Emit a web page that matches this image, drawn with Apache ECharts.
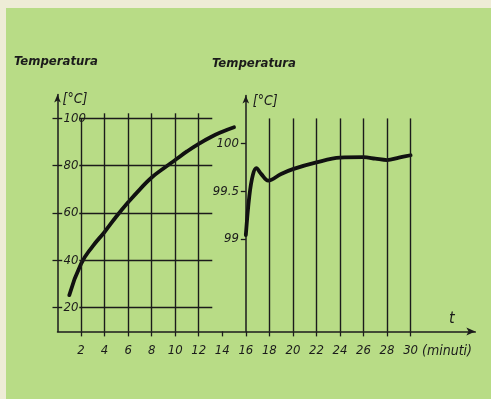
<!DOCTYPE html>
<html>
<head>
<meta charset="utf-8">
<script src="https://cdn.jsdelivr.net/npm/echarts@6/dist/echarts.min.js"></script>
<style>
html,body{margin:0;padding:0;background:#eeecd6;}
#c{width:491px;height:399px;}
</style>
</head>
<body>
<div id="c"></div>
<script>
// ---- data ----
const tLeft = [1, 2, 3, 4, 5, 6, 7, 8, 9, 10, 11, 12, 13, 14, 15];
const tempLeft = [25.3, 38.5, 46, 52, 58.5, 64.5, 70, 75, 78.8, 82.4, 86, 89.2, 92, 94.3, 96.2];
const tRight = [16, 16.3, 16.6, 16.9, 17.3, 17.9, 19, 20, 22, 24, 26, 27, 28, 29, 30];
const tempRight = [99.04, 99.45, 99.67, 99.74, 99.68, 99.61, 99.68, 99.73, 99.8, 99.85, 99.855, 99.84, 99.825, 99.85, 99.875];
const xTickValues = [2, 4, 6, 8, 10, 12, 14, 16, 18, 20, 22, 24, 26, 28, 30];
const leftGridX = [2, 4, 6, 8, 10, 12];
const rightGridX = [18, 20, 22, 24, 26, 28, 30];
const yTicksLeft = [20, 40, 60, 80, 100];
const yTicksRight = [99, 99.5, 100];

const FONT = "'DejaVu Sans Condensed', 'DejaVu Sans', sans-serif";
const INK = '#1b1b1b';
const GREEN = '#b8dc86';

const pxPerT = 11.77;
const x0 = 57.5;

function seg(a, b) { return [{coord: a}, {coord: b}]; }

const leftLines = [];
yTicksLeft.forEach(v => leftLines.push(seg([1.85, v], [13.15, v])));
leftGridX.forEach(t => leftLines.push(seg([t, 10], [t, t === 2 ? 100 : 102.1])));
yTicksLeft.forEach(v => leftLines.push(seg([0, v], [0.4, v])));

const rightLines = [];
yTicksRight.forEach(v => rightLines.push(seg([16, v], [30.15, v])));
rightGridX.forEach(t => rightLines.push(seg([t, 98.035], [t, 100.26])));

const lbl = {fontFamily: FONT, fontStyle: 'italic', fontSize: 13, color: INK};

const chart = echarts.init(document.getElementById('c'), null, {renderer: 'canvas'});
chart.setOption({
  animation: false,
  backgroundColor: 'transparent',
  graphic: [
    {type: 'rect', z: -10, shape: {x: 6, y: 8, width: 485, height: 391}, style: {fill: GREEN}},
    {type: 'text', left: 449, top: 311, style: {text: 't', font: "italic 16px " + FONT, fill: INK}},
    {type: 'text', left: 422, top: 344, style: {text: '(minuti)', font: "italic 14px " + FONT, fill: INK}}
  ],
  title: [
    {text: 'Temperatura', left: 14, top: 55, padding: 0,
     textStyle: {fontFamily: FONT, fontStyle: 'italic', fontWeight: 'bold', fontSize: 13, color: INK}},
    {text: 'Temperatura', left: 212, top: 57, padding: 0,
     textStyle: {fontFamily: FONT, fontStyle: 'italic', fontWeight: 'bold', fontSize: 13, color: INK}}
  ],
  grid: [
    {left: x0, top: 94.6, width: 35.5 * pxPerT, height: 236.8},
    {left: x0 + 16 * pxPerT, top: 95.45, width: 14 * pxPerT, height: 235.9}
  ],
  xAxis: [
    {gridIndex: 0, type: 'value', min: 0, max: 35.5,
     axisLine: {show: true, lineStyle: {color: INK, width: 1.5}, symbol: ['none', 'arrow'], symbolSize: [6, 9]},
     axisTick: {show: true, customValues: xTickValues, length: 5, lineStyle: {color: INK, width: 1.3}},
     axisLabel: {show: true, customValues: xTickValues, margin: 13, ...lbl},
     splitLine: {show: false}},
    {gridIndex: 1, type: 'value', min: 16, max: 30, show: false}
  ],
  yAxis: [
    {gridIndex: 0, type: 'value', min: 10, max: 110,
     name: '[°C]', nameLocation: 'end', nameGap: -5,
     nameTextStyle: {...lbl, fontSize: 14, align: 'left', verticalAlign: 'middle', padding: [0, 0, 0, 5]},
     axisLine: {show: true, lineStyle: {color: INK, width: 1.5}, symbol: ['none', 'arrow'], symbolSize: [5, 8]},
     axisTick: {show: true, customValues: yTicksLeft, length: 5, lineStyle: {color: INK, width: 1.3}},
     axisLabel: {show: true, customValues: yTicksLeft, inside: true, margin: 6, ...lbl},
     splitLine: {show: false}},
    {gridIndex: 1, type: 'value', min: 98.035, max: 100.5,
     name: '[°C]', nameLocation: 'end', nameGap: -6,
     nameTextStyle: {...lbl, fontSize: 14, align: 'left', verticalAlign: 'middle', padding: [0, 0, 0, 7]},
     axisLine: {show: true, lineStyle: {color: INK, width: 1.5}, symbol: ['none', 'arrow'], symbolSize: [5, 8]},
     axisTick: {show: true, customValues: yTicksRight, length: 5, lineStyle: {color: INK, width: 1.3}},
     axisLabel: {show: true, customValues: yTicksRight, margin: 7, ...lbl},
     splitLine: {show: false}}
  ],
  series: [
    {type: 'line', xAxisIndex: 0, yAxisIndex: 0, smooth: 0.5, showSymbol: false,
     data: tLeft.map((t, i) => [t, tempLeft[i]]),
     lineStyle: {color: '#111', width: 3.8, cap: 'round'},
     markLine: {silent: true, symbol: ['none', 'none'], label: {show: false},
       lineStyle: {color: INK, width: 1.4, type: 'solid'}, data: leftLines}},
    {type: 'line', xAxisIndex: 1, yAxisIndex: 1, smooth: 0.35, showSymbol: false,
     data: tRight.map((t, i) => [t, tempRight[i]]),
     lineStyle: {color: '#111', width: 3.8, cap: 'round'},
     markLine: {silent: true, symbol: ['none', 'none'], label: {show: false},
       lineStyle: {color: INK, width: 1.4, type: 'solid'}, data: rightLines}}
  ]
});
</script>
</body>
</html>
